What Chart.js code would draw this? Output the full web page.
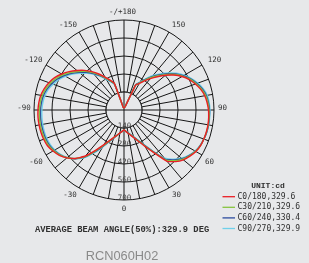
<!DOCTYPE html>
<html><head><meta charset="utf-8">
<script src="https://cdn.jsdelivr.net/npm/chart.js@4.4.1/dist/chart.umd.min.js"></script>
<style>html,body{margin:0;padding:0;background:#e7e8ea;width:309px;height:263px;overflow:hidden}canvas{display:block}</style>
</head><body><canvas id="c" width="309" height="263"></canvas>
<script>
// gamma angles (deg), drawn clockwise from the top
const gammas = [180,175,170,165,160,155,150,145,140,135,130,125,120,115,110,105,100,95,90,85,80,75,70,65,60,55,50,45,40,35,30,25,20,15,10,5,0,-5,-10,-15,-20,-25,-30,-35,-40,-45,-50,-55,-60,-65,-70,-75,-80,-85,-90,-95,-100,-105,-110,-115,-120,-125,-130,-135,-140,-145,-150,-155,-160,-165,-170,-175];
const angleTicks = [180,150,120,90,60,30,0,-30,-60,-90,-120,-150];
const angleTickLabels = ['-/+180','150','120','90','60','30','0','-30','-60','-90','-120','-150'];
const radialTicks = [140,280,420,560,700];

// intensities in cd
const c0_180 = [16,16,19,23,31,214, 237,276,319,366,420,474, 521,560,591,618,638,649, 657,661,663,663,661,657, 646,626,603,568,521,404, 327,270,231,204,184,168, 156,167,181,201,226,261, 311,381,467,533,579,614, 638,657,665,669,671,671, 669,665,657,642,622,595, 560,521,478,436,389,342, 296,257,222,23,19,16];
const c30_210 = [16,16,19,23,34,215, 243,284,330,377,430,482, 528,567,598,625,645,655, 661,664,665,664,661,656, 643,622,596,558,510,399, 321,265,228,201,182,167, 156,167,182,202,228,265, 318,390,474,534,578,610, 632,649,656,659,661,660, 658,654,646,631,610,583, 548,509,466,425,380,334, 289,251,218,23,19,16];
const c60_240 = [16,16,19,23,36,217, 247,291,339,386,438,490, 534,572,604,631,650,659, 665,666,667,666,661,654, 641,618,590,550,501,394, 317,262,225,199,181,167, 156,167,182,203,231,268, 324,399,479,536,577,607, 628,642,649,651,652,652, 650,645,637,622,599,572, 537,498,455,415,371,327, 283,247,214,23,19,16];
const c90_270 = [16,16,19,23,39,218, 253,299,350,397,447,498, 541,579,611,638,657,665, 669,669,669,667,661,653, 638,614,583,541,490,389, 311,257,222,197,179,166, 156,167,183,204,233,272, 331,408,486,537,576,603, 622,634,640,642,642,641, 639,634,626,611,587,560, 525,486,443,404,362,319, 276,241,210,23,19,16];

const seriesNames = ['C0/180,329.6','C30/210,329.6','C60/240,330.4','C90/270,329.9'];
const seriesColors = ['#ea1f25','#86c440','#2c4c9e','#6fd0ea'];
const unitLabel = 'UNIT:cd';
const beamText = 'AVERAGE BEAM ANGLE(50%):329.9 DEG';
const modelName = 'RCN060H02';

// styling: label nudges (px) for the angle labels, in angleTicks order
const labelNudge = [[-1.5,2],[4.5,2],[4,0],[-1.5,-1.7],[-1,1.7],[2.5,-1.6],[0,-1],[-4,-1.6],[-1.4,1.7],[0,-1.7],[-4,0],[-6,2]];
const BG = '#e7e8ea', GRID = '#151515', TXT = '#303030';

const polarDecor = {
  id: 'polarDecor',
  beforeDatasetsDraw(chart) {
    const s = chart.scales.r, ctx = chart.ctx;
    const r1 = s.getDistanceFromCenterForValue(radialTicks[0]);
    ctx.save();
    ctx.fillStyle = BG;
    ctx.beginPath(); ctx.arc(s.xCenter, s.yCenter, r1, 0, Math.PI * 2); ctx.fill();
    ctx.strokeStyle = GRID; ctx.lineWidth = 1; ctx.stroke();
    ctx.beginPath();
    ctx.moveTo(s.xCenter - r1, s.yCenter); ctx.lineTo(s.xCenter + r1, s.yCenter);
    ctx.moveTo(s.xCenter, s.yCenter - r1); ctx.lineTo(s.xCenter, s.yCenter + r1);
    ctx.stroke();
    ctx.restore();
  },
  afterDraw(chart) {
    const s = chart.scales.r, ctx = chart.ctx;
    const R = s.getDistanceFromCenterForValue(radialTicks[radialTicks.length - 1]);
    ctx.save();
    ctx.textAlign = 'center'; ctx.textBaseline = 'middle';
    ctx.fillStyle = TXT;
    ctx.font = '7.5px "DejaVu Sans Mono"';
    angleTicks.forEach((g, i) => {
      const p = s.getPointPosition(gammas.indexOf(g), R + 10);
      ctx.fillText(angleTickLabels[i], p.x + labelNudge[i][0], p.y + labelNudge[i][1]);
    });
    ctx.fillStyle = '#404040';
    radialTicks.forEach(v => {
      const d = s.getDistanceFromCenterForValue(v);
      const p = s.getPointPosition(gammas.indexOf(0), d);
      ctx.fillText(String(v), p.x + 0.5, p.y - 1.5);
    });
    ctx.fillStyle = TXT;
    ctx.font = 'bold 8px "Liberation Mono"';
    ctx.fillText(unitLabel, 268, 186);
    ctx.textAlign = 'left';
    ctx.font = '8px "DejaVu Sans Mono"';
    chart.data.datasets.forEach((ds, i) => {
      const y = 196.7 + i * 10.6;
      ctx.strokeStyle = ds.borderColor; ctx.lineWidth = 1.3;
      ctx.beginPath(); ctx.moveTo(222.5, y); ctx.lineTo(235, y); ctx.stroke();
      ctx.fillStyle = TXT;
      ctx.fillText(ds.label, 237.5, y);
    });
    ctx.font = 'bold 8.8px "Liberation Mono"';
    ctx.fillText(beamText, 35, 229.5);
    ctx.textAlign = 'center';
    ctx.fillStyle = '#8a8a8a';
    ctx.font = '12.8px "Liberation Sans"';
    ctx.fillText(modelName, 122, 256);
    ctx.restore();
  }
};

const series = [c0_180, c30_210, c60_240, c90_270];
new Chart(document.getElementById('c'), {
  type: 'radar',
  data: {
    labels: gammas.map(String),
    datasets: series.map((d, i) => ({
      label: seriesNames[i], data: d, borderColor: seriesColors[i], borderWidth: 1.4,
      pointRadius: 0, fill: false, tension: 0.1
    }))
  },
  options: {
    responsive: false, animation: false, devicePixelRatio: 1,
    layout: { padding: { left: 34, top: 20, right: 95, bottom: 63 } },
    plugins: { legend: { display: false }, tooltip: { enabled: false } },
    scales: {
      r: {
        min: 0, max: 700, startAngle: 0,
        ticks: { display: false, stepSize: 140 },
        pointLabels: { display: false },
        grid: { circular: true, color: GRID, lineWidth: 1 },
        angleLines: { color: c => (c.index % 2 === 0 ? GRID : 'rgba(0,0,0,0)'), lineWidth: 1 }
      }
    }
  },
  plugins: [polarDecor]
});
</script>
</body></html>
